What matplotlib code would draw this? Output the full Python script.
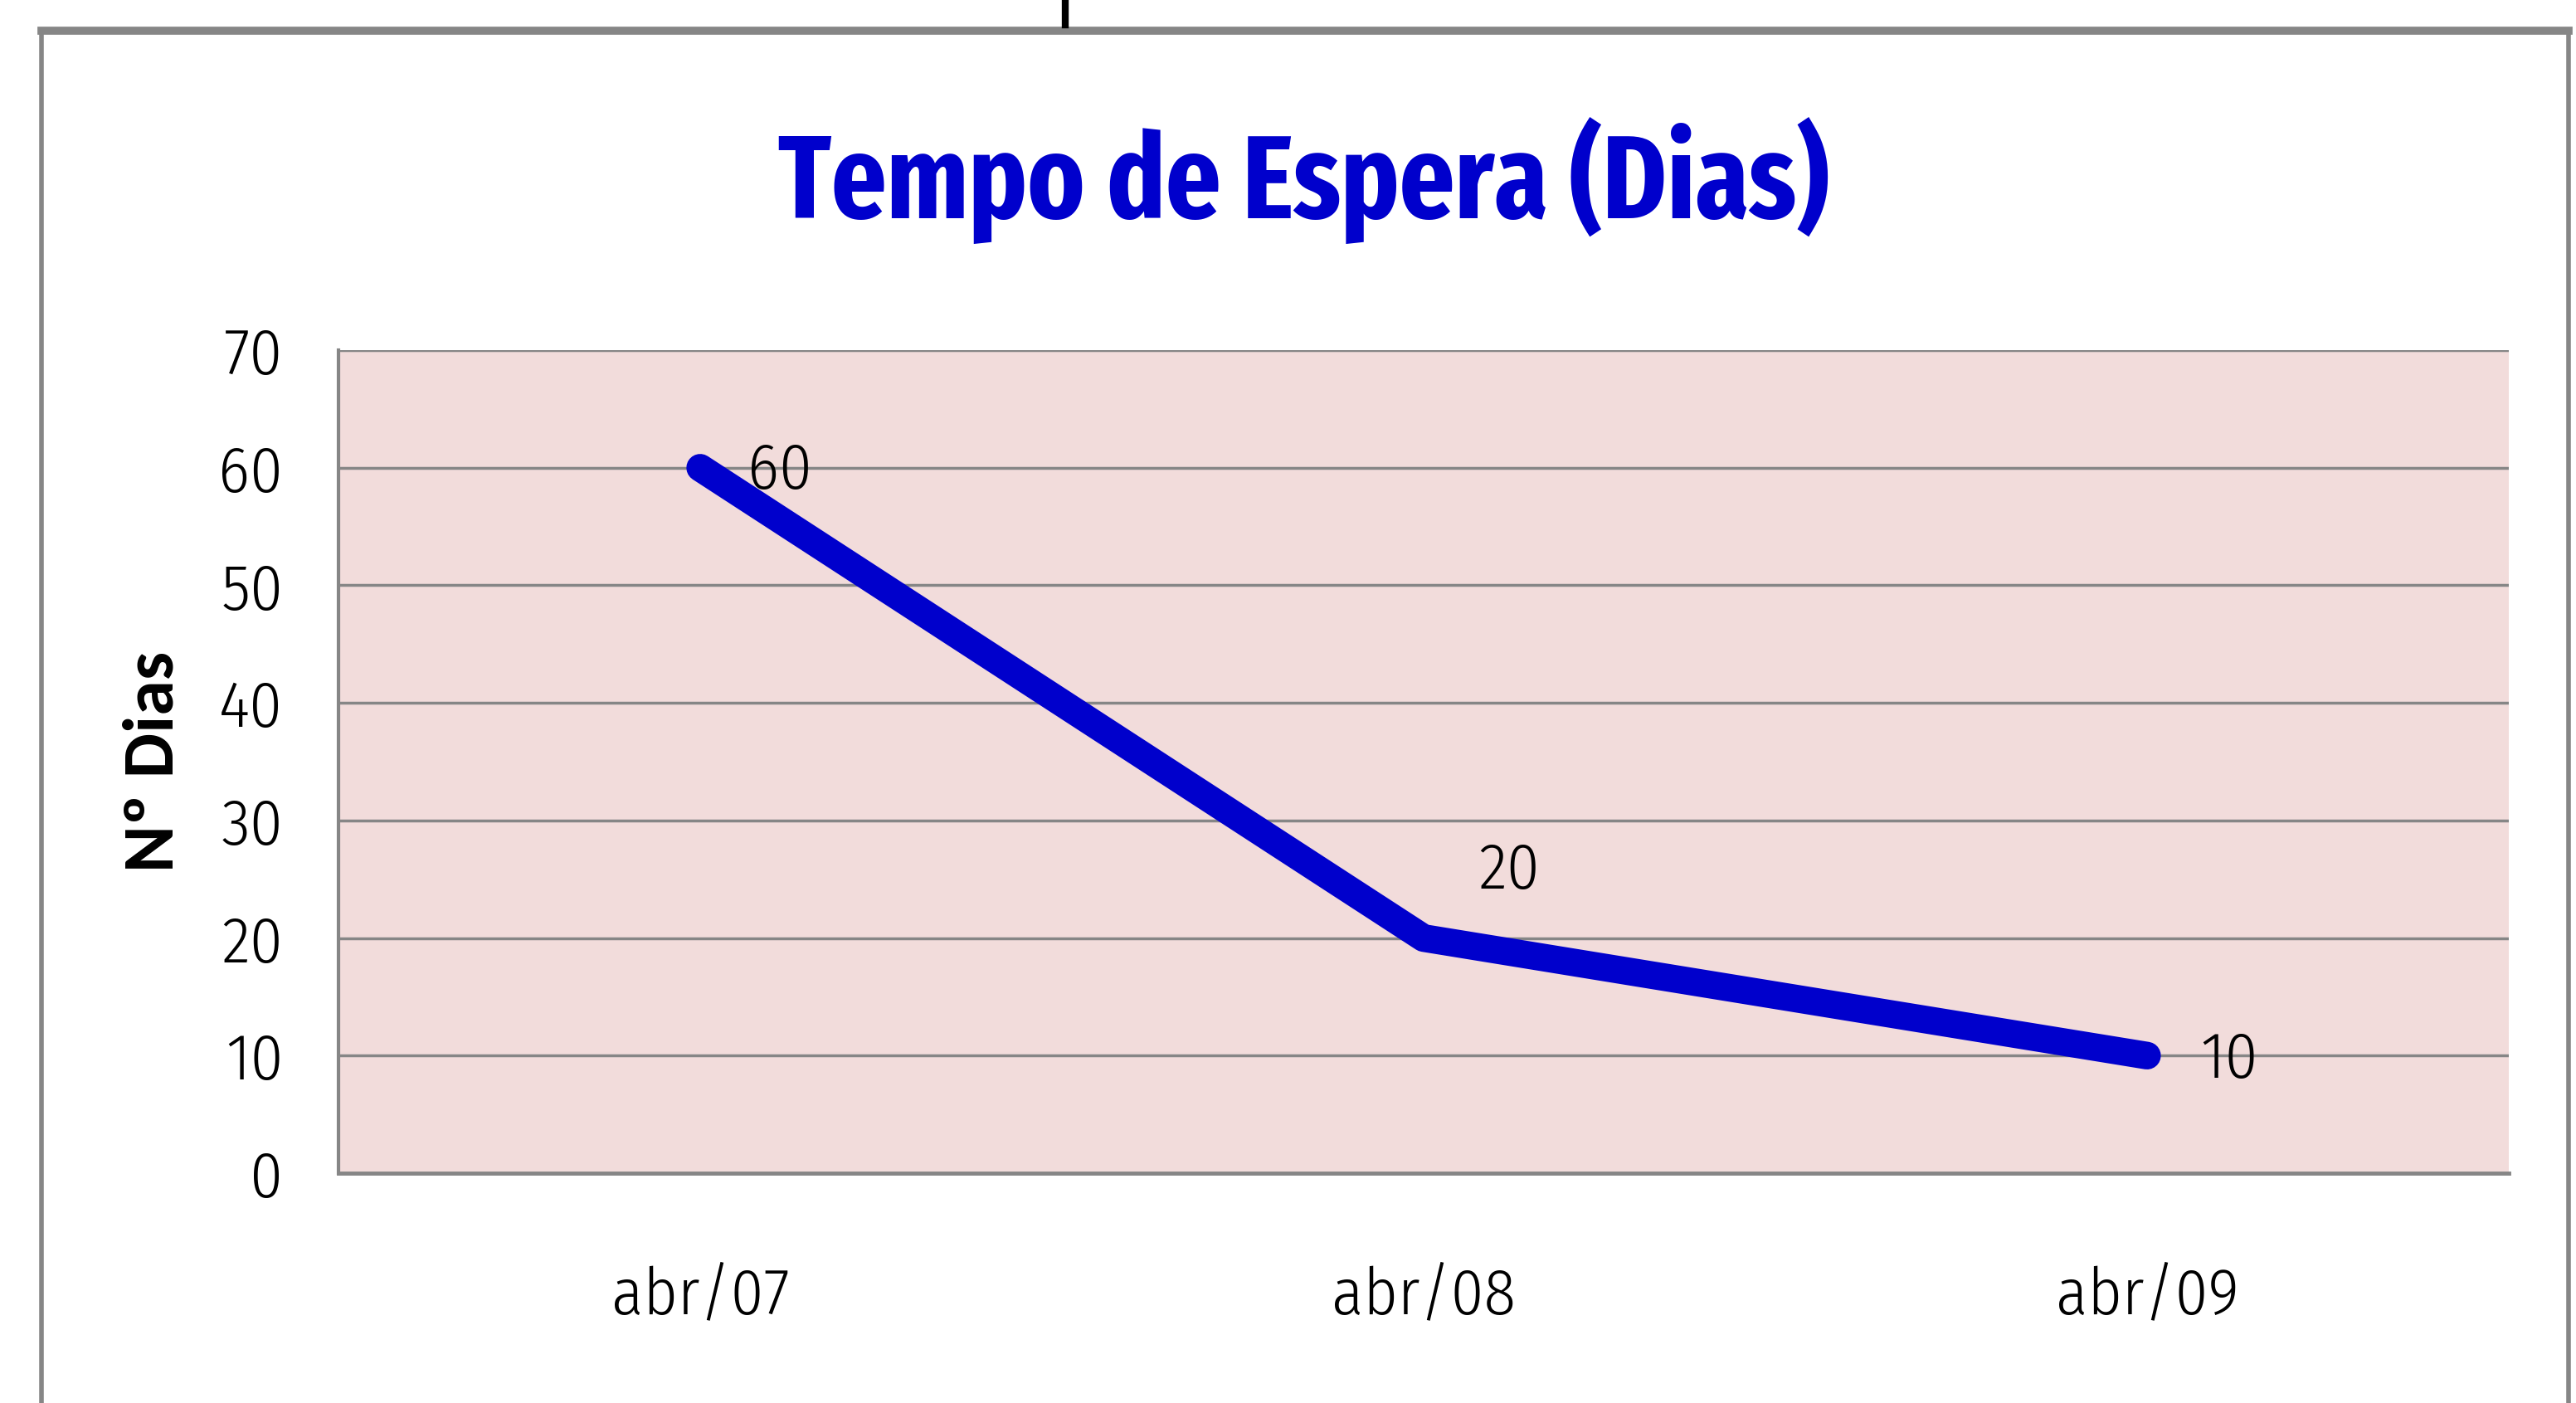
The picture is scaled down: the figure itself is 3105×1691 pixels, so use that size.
import matplotlib
matplotlib.use("Agg")
import matplotlib.pyplot as plt
from matplotlib.lines import Line2D

# dados
meses = ['abr/07', 'abr/08', 'abr/09']
dias = [60, 20, 10]
yticks = [0, 10, 20, 30, 40, 50, 60, 70]

azul = '#0000CC'
cinza = '#868686'
rosa = '#F2DCDB'

plt.rcParams['font.family'] = ['Fira Sans Condensed', 'DejaVu Sans']
plt.rcParams['font.weight'] = 300

fig = plt.figure(figsize=(31.05, 16.91), dpi=100)
ax = fig.add_axes([0.1314, 0.1638, 0.8425, 0.5866])
ax.set_facecolor(rosa)

x = list(range(len(meses)))
ax.plot(x, dias, color=azul, lw=24, solid_capstyle='round', solid_joinstyle='round', zorder=3)

# rotulos de dados (deslocamento em pontos)
desloc = [(41, -3), (48, 58), (46, -4)]
for i, v in enumerate(dias):
    ax.annotate(str(v), (i, v), xytext=desloc[i], textcoords='offset points',
                ha='left', va='center', fontsize=57, color='black', zorder=4)

ax.set_xlim(-0.5, 2.5)
ax.set_ylim(0, 70)
ax.set_yticks(yticks)
ax.set_xticks(x)
ax.set_xticklabels(meses)
ax.tick_params(axis='both', length=0, labelsize=57)
ax.tick_params(axis='y', pad=48)
ax.tick_params(axis='x', pad=80)
ax.yaxis.grid(True, color=cinza, lw=2.5)
ax.set_axisbelow(True)

for s in ['top', 'right']:
    ax.spines[s].set_visible(False)
ax.spines['left'].set_color(cinza)
ax.spines['left'].set_linewidth(3)
ax.spines['bottom'].set_color(cinza)
ax.spines['bottom'].set_linewidth(3.5)

ax.set_ylabel('Nº Dias', family=['Carlito', 'DejaVu Sans'], fontweight='bold', fontsize=62)
ax.yaxis.set_label_coords(-0.071, 0.5)

fig.text(0.506, 0.871, 'Tempo de Espera (Dias)', ha='center', va='center',
         fontsize=102, fontweight='bold', color=azul,
         family=['Fira Sans Extra Condensed', 'DejaVu Sans'])

# moldura do grafico
fig.add_artist(Line2D([0.016, 0.016], [0.0, 0.978], transform=fig.transFigure, color=cinza, lw=4))
fig.add_artist(Line2D([0.997, 0.997], [0.0, 0.978], transform=fig.transFigure, color=cinza, lw=4))
fig.add_artist(Line2D([0.016, 0.997], [0.978, 0.978], transform=fig.transFigure, color=cinza, lw=7))
fig.add_artist(Line2D([0.4135, 0.4135], [0.982, 1.0], transform=fig.transFigure, color='black', lw=6))

fig.savefig('out.png', dpi=100)
